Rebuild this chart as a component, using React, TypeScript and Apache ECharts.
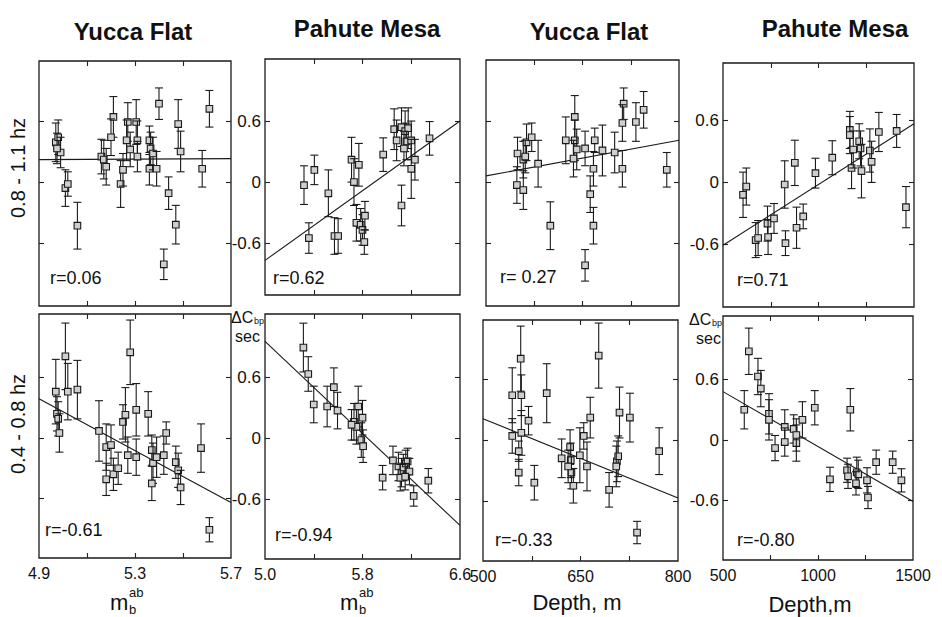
import React, { useEffect, useRef } from 'react';
import * as echarts from 'echarts';

type Pt = [number, number, number]; // x, y, half-length of error bar

// ---- 0.8-1.1 hz ----
const yuccaMbHigh: Pt[] = [
  [4.97, 0.39, 0.19], [4.98, 0.44, 0.17], [4.99, 0.29, 0.15], [4.975, 0.33, 0.15],
  [5.01, -0.06, 0.18], [5.02, -0.02, 0.12], [5.06, -0.43, 0.23], [5.16, 0.25, 0.17],
  [5.17, 0.22, 0.19], [5.18, 0.15, 0.18], [5.21, 0.64, 0.2], [5.2, 0.44, 0.18],
  [5.24, -0.02, 0.23], [5.25, 0.12, 0.16], [5.27, 0.59, 0.19], [5.265, 0.41, 0.2],
  [5.28, 0.32, 0.17], [5.305, 0.59, 0.22], [5.31, 0.41, 0.19], [5.31, 0.25, 0.15],
  [5.36, 0.41, 0.14], [5.365, 0.33, 0.16], [5.36, 0.13, 0.16], [5.375, 0.28, 0.16],
  [5.39, 0.13, 0.17], [5.4, 0.77, 0.155], [5.44, -0.11, 0.16], [5.47, -0.42, 0.19],
  [5.42, -0.81, 0.15], [5.48, 0.57, 0.24], [5.49, 0.3, 0.2], [5.58, 0.13, 0.18],
  [5.61, 0.72, 0.18],
];
const pahuteMbHigh: Pt[] = [
  [5.32, -0.03, 0.19], [5.405, 0.12, 0.145], [5.52, -0.11, 0.23], [5.36, -0.55, 0.15],
  [5.57, -0.53, 0.18], [5.6, -0.53, 0.17], [5.71, 0.22, 0.22], [5.73, 0.0, 0.23],
  [5.77, 0.17, 0.21], [5.75, -0.4, 0.18], [5.785, -0.42, 0.16], [5.8, -0.47, 0.15],
  [5.82, -0.33, 0.14], [5.815, -0.59, 0.12], [5.97, 0.27, 0.165], [6.06, 0.52, 0.2],
  [6.08, 0.41, 0.2], [6.12, 0.54, 0.19], [6.15, 0.5, 0.2], [6.16, 0.4, 0.18],
  [6.175, 0.53, 0.2], [6.14, 0.33, 0.17], [6.12, -0.23, 0.2], [6.2, 0.41, 0.19],
  [6.2, 0.13, 0.29], [6.23, 0.22, 0.2], [6.35, 0.43, 0.165],
];
const yuccaDepthHigh: Pt[] = [
  [549, 0.28, 0.16], [548, -0.03, 0.18], [558, -0.08, 0.19], [558, 0.22, 0.18],
  [563, 0.39, 0.18], [571, 0.44, 0.14], [561, 0.25, 0.16], [581, 0.18, 0.23],
  [600, -0.43, 0.235], [624, 0.41, 0.23], [638, 0.64, 0.21], [638, 0.41, 0.2],
  [641, 0.32, 0.2], [636, 0.23, 0.18], [654, 0.33, 0.17], [667, 0.13, 0.17],
  [669, 0.41, 0.12], [681, 0.31, 0.25], [662, -0.12, 0.18], [667, -0.43, 0.18],
  [654, -0.82, 0.155], [700, 0.29, 0.2], [714, 0.77, 0.155], [712, 0.58, 0.18],
  [712, 0.13, 0.18], [733, 0.59, 0.19], [745, 0.71, 0.18], [781, 0.12, 0.17],
];
const pahuteDepthHigh: Pt[] = [
  [605, -0.12, 0.22], [622, -0.04, 0.18], [671, -0.56, 0.17], [684, -0.54, 0.17],
  [733, -0.4, 0.17], [736, -0.53, 0.17], [767, -0.35, 0.145], [823, -0.02, 0.23],
  [827, -0.59, 0.12], [876, 0.19, 0.22], [885, -0.44, 0.2], [920, -0.33, 0.12],
  [984, 0.09, 0.145], [1072, 0.24, 0.165], [1164, 0.51, 0.18], [1164, 0.46, 0.18],
  [1173, 0.14, 0.2], [1182, 0.32, 0.18], [1213, 0.4, 0.17], [1220, 0.33, 0.17],
  [1225, 0.11, 0.26], [1269, 0.31, 0.21], [1278, 0.2, 0.2], [1316, 0.49, 0.19],
  [1409, 0.5, 0.16], [1458, -0.24, 0.2],
];

// ---- 0.4-0.8 hz ----
const yuccaMbLow: Pt[] = [
  [5.01, 0.81, 0.33], [4.97, 0.46, 0.32], [5.02, 0.46, 0.28], [5.06, 0.48, 0.29],
  [4.975, 0.24, 0.17], [4.98, 0.19, 0.17], [4.985, 0.05, 0.19], [5.15, 0.07, 0.3],
  [5.18, -0.09, 0.23], [5.18, -0.41, 0.16], [5.21, -0.36, 0.16], [5.2, -0.07, 0.2],
  [5.23, -0.3, 0.16], [5.25, 0.16, 0.17], [5.26, 0.23, 0.27], [5.27, -0.17, 0.18],
  [5.28, 0.85, 0.32], [5.305, 0.28, 0.26], [5.305, -0.19, 0.18], [5.355, 0.24, 0.22],
  [5.37, -0.12, 0.15], [5.375, -0.25, 0.2], [5.37, -0.45, 0.17], [5.39, -0.19, 0.2],
  [5.42, -0.17, 0.19], [5.43, 0.05, 0.11], [5.47, -0.24, 0.16], [5.48, -0.32, 0.17],
  [5.49, -0.49, 0.17], [5.575, -0.1, 0.24], [5.61, -0.91, 0.12],
];
const pahuteMbLow: Pt[] = [
  [5.315, 0.89, 0.24], [5.355, 0.63, 0.17], [5.4, 0.33, 0.18], [5.51, 0.31, 0.2],
  [5.565, 0.5, 0.19], [5.595, 0.27, 0.18], [5.765, 0.31, 0.2], [5.73, 0.16, 0.18],
  [5.75, 0.11, 0.17], [5.8, 0.2, 0.17], [5.79, -0.02, 0.17], [5.805, -0.08, 0.16],
  [5.71, 0.13, 0.15], [5.965, -0.39, 0.12], [6.05, -0.22, 0.14], [6.095, -0.28, 0.14],
  [6.12, -0.34, 0.14], [6.135, -0.29, 0.13], [6.155, -0.25, 0.13], [6.17, -0.23, 0.13],
  [6.185, -0.33, 0.13], [6.11, -0.39, 0.13], [6.15, -0.38, 0.13], [6.22, -0.57, 0.1],
  [6.34, -0.42, 0.12],
];
const yuccaDepthLow: Pt[] = [
  [545, 0.44, 0.27], [558, 0.8, 0.32], [559, 0.44, 0.2], [545, 0.04, 0.17],
  [559, 0.07, 0.22], [555, -0.11, 0.1], [555, -0.32, 0.13], [570, 0.19, 0.14],
  [579, -0.42, 0.17], [598, 0.46, 0.29], [621, -0.18, 0.19], [634, -0.07, 0.17],
  [635, -0.2, 0.17], [636, -0.32, 0.16], [639, -0.45, 0.17], [631, -0.26, 0.16],
  [649, -0.15, 0.27], [655, 0.04, 0.13], [660, -0.26, 0.24], [665, 0.22, 0.2],
  [678, 0.83, 0.32], [694, -0.49, 0.17], [706, -0.21, 0.2], [708, -0.16, 0.2],
  [705, -0.26, 0.2], [710, 0.27, 0.25], [726, 0.22, 0.24], [771, -0.11, 0.23],
  [737, -0.91, 0.11],
];
const pahuteDepthLow: Pt[] = [
  [636, 0.88, 0.23], [612, 0.3, 0.19], [684, 0.63, 0.18], [699, 0.51, 0.18],
  [742, 0.26, 0.2], [742, 0.2, 0.2], [774, -0.08, 0.125], [825, 0.13, 0.17],
  [825, -0.02, 0.14], [872, 0.11, 0.14], [886, -0.03, 0.18], [886, 0.05, 0.16],
  [918, 0.2, 0.18], [983, 0.32, 0.17], [1063, -0.39, 0.12], [1170, 0.3, 0.21],
  [1153, -0.3, 0.12], [1158, -0.36, 0.12], [1204, -0.32, 0.15], [1212, -0.34, 0.14],
  [1200, -0.43, 0.115], [1258, -0.4, 0.125], [1263, -0.57, 0.11], [1306, -0.22, 0.12],
  [1393, -0.22, 0.11], [1439, -0.4, 0.115],
];

// regression lines (end points)
const fitYuccaMbHigh = [[4.9, 0.22], [5.7, 0.23]];
const fitPahuteMbHigh = [[5.0, -0.77], [6.6, 0.6]];
const fitYuccaDepthHigh = [[500, 0.06], [800, 0.41]];
const fitPahuteDepthHigh = [[500, -0.61], [1500, 0.57]];
const fitYuccaMbLow = [[4.9, 0.39], [5.7, -0.64]];
const fitPahuteMbLow = [[5.0, 0.95], [6.6, -0.86]];
const fitYuccaDepthLow = [[500, 0.21], [800, -0.57]];
const fitPahuteDepthLow = [[500, 0.48], [1500, -0.61]];

const rTexts = ['r=0.06', 'r=0.62', 'r= 0.27', 'r=0.71', 'r=-0.61', 'r=-0.94', 'r=-0.33', 'r=-0.80'];
const siteTitles = ['Yucca Flat', 'Pahute Mesa', 'Yucca Flat', 'Pahute Mesa'];
const bandLabels = ['0.8 - 1.1 hz', '0.4 - 0.8 hz'];

const mbYuccaRange = [4.9, 5.7];
const mbYuccaTicks = [5.1, 5.3, 5.5];
const mbYuccaLabels = [4.9, 5.3, 5.7];
const mbPahuteRange = [5.0, 6.6];
const mbPahuteTicks = [5.4, 5.8, 6.2];
const mbPahuteLabels = [5.0, 5.8, 6.6];
const depthYuccaRange = [500, 800];
const depthYuccaTicks = [575, 650, 725];
const depthYuccaLabels = [500, 650, 800];
const depthPahuteRange = [500, 1500];
const depthPahuteTicks = [750, 1000, 1250];
const depthPahuteLabels = [500, 1000, 1500];
const yTicks = [-0.6, 0, 0.6];

const FONT = "'Liberation Sans', Arial, Helvetica, sans-serif";

const App: React.FC = () => {
  const ref = useRef<HTMLDivElement>(null);

  useEffect(() => {
    if (!ref.current) return;
    const chart = echarts.init(ref.current, undefined, { renderer: 'svg' });

    const xScales = [
      { range: mbYuccaRange, ticks: mbYuccaTicks, labels: mbYuccaLabels, dec: 1 },
      { range: mbPahuteRange, ticks: mbPahuteTicks, labels: mbPahuteLabels, dec: 1 },
      { range: depthYuccaRange, ticks: depthYuccaTicks, labels: depthYuccaLabels, dec: 0 },
      { range: depthPahuteRange, ticks: depthPahuteTicks, labels: depthPahuteLabels, dec: 0 },
    ];
    const datasets = [
      yuccaMbHigh, pahuteMbHigh, yuccaDepthHigh, pahuteDepthHigh,
      yuccaMbLow, pahuteMbLow, yuccaDepthLow, pahuteDepthLow,
    ];
    const fits = [
      fitYuccaMbHigh, fitPahuteMbHigh, fitYuccaDepthHigh, fitPahuteDepthHigh,
      fitYuccaMbLow, fitPahuteMbLow, fitYuccaDepthLow, fitPahuteDepthLow,
    ];
    // layout of each panel: left, top, width, height, y-min, y-max
    const layout = [
      [39, 61, 192, 245, -1.22, 1.19],
      [265, 59, 195, 236, -1.11, 1.21],
      [486, 60, 193, 246, -1.22, 1.2],
      [723, 63, 191, 244, -1.21, 1.16],
      [39, 314, 192, 244, -1.19, 1.23],
      [265, 314, 195, 245, -1.19, 1.22],
      [483, 320, 195, 241, -1.19, 1.18],
      [723, 316, 190, 244, -1.19, 1.23],
    ];

    const grid: any[] = [];
    const xAxis: any[] = [];
    const yAxis: any[] = [];
    const series: any[] = [];
    const tickStyle = { show: true, inside: true, length: 5, lineStyle: { color: '#222', width: 1.1 } };
    const noLine = { show: false, onZero: false };

    layout.forEach((L, i) => {
      const col = i % 4;
      const row = Math.floor(i / 4);
      const xs = xScales[col];
      grid.push({
        left: L[0], top: L[1], width: L[2], height: L[3],
        show: true, borderColor: '#1a1a1a', borderWidth: 1.3, backgroundColor: 'transparent',
      });
      const baseX = {
        type: 'value', gridIndex: i, min: xs.range[0], max: xs.range[1],
        axisLine: noLine, splitLine: { show: false },
        axisTick: { ...tickStyle, customValues: xs.ticks },
      };
      xAxis.push({
        ...baseX, position: 'bottom',
        axisLabel: row === 1 ? {
          show: true, customValues: xs.labels, margin: 7,
          fontFamily: FONT, fontSize: 16, color: '#111',
          formatter: (v: number) => v.toFixed(xs.dec),
        } : { show: false },
      });
      xAxis.push({ ...baseX, position: 'top', axisLabel: { show: false } });

      const baseY = {
        type: 'value', gridIndex: i, min: L[4], max: L[5],
        axisLine: noLine, splitLine: { show: false },
        axisTick: { ...tickStyle, customValues: yTicks },
      };
      yAxis.push({
        ...baseY, position: 'left',
        axisLabel: col === 1 || col === 3 ? {
          show: true, customValues: yTicks, margin: 4,
          fontFamily: FONT, fontSize: 17, color: '#111',
          formatter: (v: number) => (Math.abs(v) < 1e-9 ? '0' : v.toFixed(1)),
        } : { show: false },
      });
      yAxis.push({ ...baseY, position: 'right', axisLabel: { show: false } });

      series.push({
        type: 'line', xAxisIndex: 2 * i, yAxisIndex: 2 * i,
        data: fits[i], showSymbol: false, symbol: 'none', silent: true,
        lineStyle: { color: '#1a1a1a', width: 1.1 }, z: 2,
      });
      series.push({
        type: 'custom', xAxisIndex: 2 * i, yAxisIndex: 2 * i,
        data: datasets[i], encode: { x: 0, y: 1 }, z: 3, clip: false,
        renderItem: (_p: any, api: any) => {
          const x = api.value(0), y = api.value(1), e = api.value(2);
          const c = api.coord([x, y]);
          const t = api.coord([x, y + e]);
          const b = api.coord([x, y - e]);
          const hw = 4, s = 3.3;
          const st = { stroke: '#1a1a1a', lineWidth: 1.1, fill: 'none' };
          return {
            type: 'group',
            children: [
              { type: 'line', shape: { x1: c[0], y1: t[1], x2: c[0], y2: b[1] }, style: st },
              { type: 'line', shape: { x1: c[0] - hw, y1: t[1], x2: c[0] + hw, y2: t[1] }, style: st },
              { type: 'line', shape: { x1: c[0] - hw, y1: b[1], x2: c[0] + hw, y2: b[1] }, style: st },
              {
                type: 'rect', shape: { x: c[0] - s, y: c[1] - s, width: 2 * s, height: 2 * s },
                style: { fill: '#cfcfcf', stroke: '#1a1a1a', lineWidth: 1.1 },
              },
            ],
          };
        },
      });
    });

    const txt = (text: string, x: number, y: number, size: number, extra: any = {}) => ({
      type: 'text', x, y, silent: true,
      style: {
        text, fontFamily: FONT, fontSize: size, fill: '#111',
        align: extra.align || 'left', verticalAlign: 'middle', fontWeight: extra.weight || 'normal',
      },
      rotation: extra.rotation || 0,
    });

    const titlePos = [[133, 31], [367, 28], [589, 31], [835, 28]];
    const rPos = [[50, 278], [273, 278], [500, 277], [737, 280], [45, 530], [275, 535], [495, 540], [737, 540]];

    const graphic: any[] = [];
    siteTitles.forEach((t, i) =>
      graphic.push(txt(t, titlePos[i][0], titlePos[i][1], 24, { align: 'center', weight: 'bold' })));
    graphic.push(txt(bandLabels[0], 18, 168, 20, { align: 'center', rotation: Math.PI / 2 }));
    graphic.push(txt(bandLabels[1], 18, 424, 20, { align: 'center', rotation: Math.PI / 2 }));
    rTexts.forEach((t, i) => graphic.push(txt(t, rPos[i][0], rPos[i][1], 18)));

    // ΔC_bp sec labels
    graphic.push(txt('ΔC', 231, 317, 16));
    graphic.push(txt('bp', 254, 321, 9));
    graphic.push(txt('sec', 235, 336, 16));
    graphic.push(txt('ΔC', 689, 319, 16));
    graphic.push(txt('bp', 712, 323, 9));
    graphic.push(txt('sec', 696, 338, 16));

    // x-axis titles
    graphic.push(txt('m', 110, 602, 22));
    graphic.push(txt('ab', 129, 592, 13));
    graphic.push(txt('b', 129, 609, 13));
    graphic.push(txt('m', 340, 602, 22));
    graphic.push(txt('ab', 359, 592, 13));
    graphic.push(txt('b', 359, 609, 13));
    graphic.push(txt('Depth, m', 577, 602, 22, { align: 'center' }));
    graphic.push(txt('Depth,m', 810, 604, 22, { align: 'center' }));

    chart.setOption({
      animation: false,
      backgroundColor: '#ffffff',
      grid, xAxis, yAxis, series, graphic,
    });

    return () => chart.dispose();
  }, []);

  return (
    <div
      ref={ref}
      style={{ position: 'absolute', left: 0, top: 0, width: 942, height: 617, background: '#fff' }}
    />
  );
};

export default App;
